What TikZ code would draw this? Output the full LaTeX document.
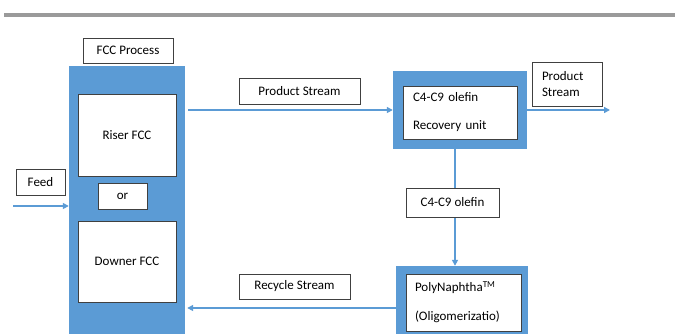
\documentclass[tikz,border=0pt]{standalone}
\usepackage{fontspec}
\setmainfont{Carlito}
\usetikzlibrary{arrows.meta}
\definecolor{procblue}{HTML}{5B9BD5}
\definecolor{rulegray}{HTML}{9A9A9A}
\definecolor{edge}{HTML}{404040}

\begin{document}
\begin{tikzpicture}[x=1pt,y=-1pt,
  txt/.style={font=\fontsize{13}{15}\selectfont},
  tag/.style={txt, draw=edge, line width=0.8pt, fill=white, inner sep=0pt},
  unit/.style={fill=procblue, draw=none, inner sep=0pt},
  inbox/.style={draw=edge, line width=0.8pt, fill=white, inner sep=0pt, align=left},
  flow/.style={draw=procblue, line width=1.8pt, -{Triangle[length=6pt,width=6pt]}}]
\clip (0,0) rectangle (675,333);
\useasboundingbox (0,0) rectangle (675,333);

% header rule
\draw[rulegray, line width=4pt] (4,14.5) -- (675,14.5);

% FCC process column
\node[unit, minimum width=116pt, minimum height=280pt] (fcc) at (127,206) {};
\node[tag, minimum width=90pt, minimum height=25pt] (fcclbl) at (128,50.5) {FCC Process};
\node[tag, minimum width=98pt, minimum height=82pt] (riser) at (127,135) {Riser FCC};
\node[tag, minimum width=49pt, minimum height=26pt] (or) at (122.5,196) {or};
\node[tag, minimum width=98pt, minimum height=81pt] (downer) at (127,261.5) {Downer FCC};

% feed
\node[tag, minimum width=49pt, minimum height=26pt] (feedlbl) at (40.5,182) {Feed};
\coordinate (feedin) at (13,206);
\draw[flow] (feedin) -- (feedin -| fcc.west);

% olefin recovery unit
\node[unit, minimum width=134pt, minimum height=78pt] (rec) at (460,110) {};
\node[inbox, minimum width=114pt, minimum height=53pt, text width=94pt, inner xsep=10pt,
      font=\fontsize{13}{28}\selectfont] (recin) at (460,112.5) {C4-C9 olefin\\Recovery unit};

% product stream from FCC to recovery
\node[tag, minimum width=121pt, minimum height=26pt] (prodlbl) at (299.5,91) {Product Stream};
\draw[flow] ([xshift=3pt]fcc.east |- rec.west) -- (rec.west);

% product stream out
\node[inbox, minimum width=70pt, minimum height=44pt, text width=50pt, inner xsep=10pt,
      font=\fontsize{13}{16}\selectfont] (outlbl) at (567,84) {Product\\Stream};
\coordinate (outend) at (610,110);
\draw[flow] (rec.east) -- (outend);

% oligomerization unit
\node[unit, minimum width=132pt, minimum height=80pt] (poly) at (462,306) {};
\node[inbox, minimum width=115pt, minimum height=57pt, text width=97pt, inner xsep=9pt,
      font=\fontsize{13}{29}\selectfont] (polyin) at (463.5,302.5)
      {PolyNaphtha\textsuperscript{TM}\\(Oligomerizatio)};

% olefin feed to oligomerization
\draw[flow] ([xshift=-5pt]rec.south) -- ([xshift=-5pt]rec.south |- poly.north);
\node[tag, minimum width=93pt, minimum height=29pt] (olelbl) at (452.5,202.5) {C4-C9 olefin};

% recycle back to FCC
\coordinate (recy) at (0,308);
\node[tag, minimum width=111pt, minimum height=25pt] (recylbl) at (294.5,286.5) {Recycle Stream};
\draw[flow] (poly.west |- recy) -- ([xshift=2pt]fcc.east |- recy);
\end{tikzpicture}
\end{document}
